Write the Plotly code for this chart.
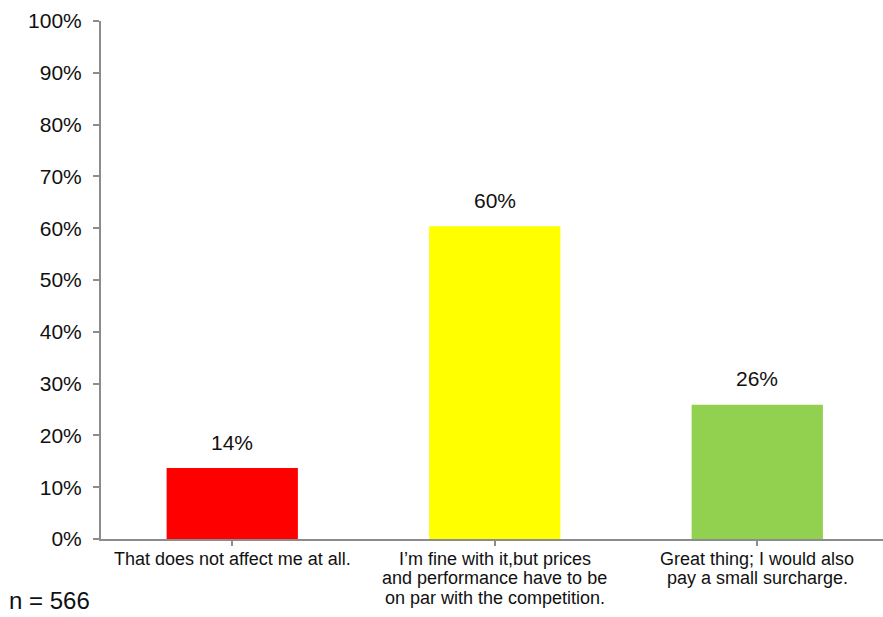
import plotly.graph_objects as go

categories = [
    "That does not affect me at all.",
    "I’m fine with it,but prices<br>and performance have to be<br>on par with the competition.",
    "Great thing; I would also<br>pay a small surcharge.",
]
values = [13.7, 60.4, 25.9]
labels = ["14%", "60%", "26%"]
colors = ["#FF0000", "#FFFF00", "#92D050"]
y_ticks = list(range(0, 101, 10))
sample_note = "n = 566"

FONT = "Liberation Sans, Arial, sans-serif"
AXIS = "#8C8C8C"
TXT = "#111111"

fig = go.Figure()
fig.add_trace(go.Bar(
    x=list(range(len(categories))),
    y=values,
    width=0.5,
    marker=dict(color=colors, line=dict(width=0)),
    hoverinfo="skip",
))

for i, (v, t) in enumerate(zip(values, labels)):
    fig.add_annotation(x=i, y=v, text=t, showarrow=False, yshift=26,
                       font=dict(family=FONT, size=21, color=TXT),
                       xanchor="center", yanchor="middle")

# category labels, one annotation per line for tight line spacing
for i, cat in enumerate(categories):
    for k, line in enumerate(cat.split("<br>")):
        fig.add_annotation(x=i, xref="x", y=0, yref="paper", text=line,
                           showarrow=False, yshift=-19.5 - 19.8 * k,
                           xanchor="center", yanchor="middle",
                           font=dict(family=FONT, size=18, color=TXT))

fig.add_annotation(xref="paper", yref="paper", x=-0.119, y=-0.146,
                   text=sample_note, showarrow=False, xanchor="left",
                   yanchor="bottom", borderpad=0,
                   font=dict(family=FONT, size=24, color=TXT))

fig.update_layout(
    width=883, height=617,
    margin=dict(l=101, r=0, t=21, b=78),
    paper_bgcolor="white", plot_bgcolor="white",
    showlegend=False,
    font=dict(family=FONT, color=TXT),
)
fig.update_xaxes(
    range=[-0.5, 2.479],
    tickmode="array",
    tickvals=list(range(len(categories))),
    ticktext=["" for _ in categories],
    showgrid=False, zeroline=False,
    showline=True, linecolor=AXIS, linewidth=2,
    ticks="outside", ticklen=5, tickwidth=2, tickcolor=AXIS,
    tickson="boundaries",
)
fig.update_yaxes(
    range=[0, 100],
    tickmode="array",
    tickvals=y_ticks,
    ticktext=[f"{v}%" for v in y_ticks],
    showgrid=False, zeroline=False,
    showline=True, linecolor=AXIS, linewidth=2,
    ticks="outside", ticklen=6, tickwidth=2, tickcolor=AXIS,
    ticklabelstandoff=7,
    tickfont=dict(family=FONT, size=21, color=TXT),
)

fig.write_html("out.html")
